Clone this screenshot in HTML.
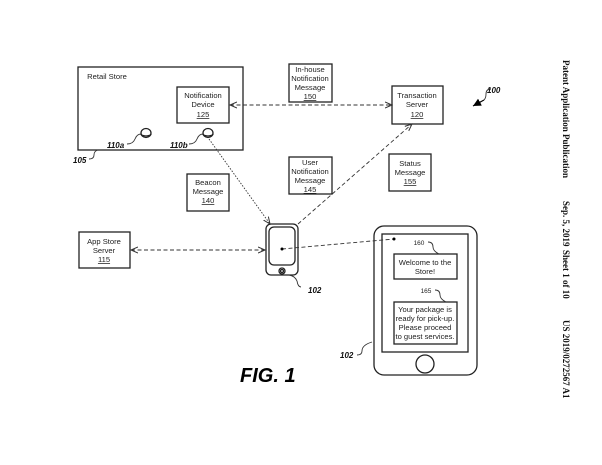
<!DOCTYPE html>
<html><head><meta charset="utf-8"><style>
html,body{margin:0;padding:0;background:#fff;}
svg{display:block;font-family:"Liberation Sans",sans-serif;}
</style></head><body>
<svg width="602" height="465" viewBox="0 0 602 465" xmlns="http://www.w3.org/2000/svg">
<defs>
<marker id="a" markerWidth="8" markerHeight="8" refX="7" refY="4" orient="auto-start-reverse" markerUnits="userSpaceOnUse"><path d="M0,1 L7,4 L0,7" fill="none" stroke="#333" stroke-width="1"/></marker>
<marker id="f" markerWidth="10" markerHeight="10" refX="8" refY="4" orient="auto" markerUnits="userSpaceOnUse"><path d="M0,0 L8,4 L0,8 z" fill="#000"/></marker>
</defs>
<g fill="none" stroke="#222" stroke-width="1.3">
<rect x="78" y="67" width="165" height="83"/>
<rect x="177" y="87" width="52" height="36"/>
<rect x="289" y="64" width="43" height="38"/>
<rect x="392" y="86" width="51" height="38"/>
<rect x="289" y="157" width="43" height="37"/>
<rect x="389" y="154" width="42" height="37"/>
<rect x="187" y="174" width="42" height="37"/>
<rect x="79" y="232" width="51" height="36"/>
<rect x="266" y="224" width="32" height="51" rx="5"/>
<rect x="269" y="227" width="26" height="38" rx="5"/>
<circle cx="282" cy="271" r="3"/><circle cx="282" cy="271" r="1.5"/>
<rect x="374" y="226" width="103" height="149" rx="10"/>
<rect x="382" y="234" width="86" height="118"/>
<circle cx="425" cy="364" r="9"/>
<rect x="394" y="254" width="63" height="25"/>
<rect x="394" y="302" width="63" height="42"/>
<ellipse cx="146" cy="133" rx="5" ry="4.5"/><path d="M141,134 a5,2 0 0 0 10,0"/>
<ellipse cx="208" cy="133" rx="5" ry="4.5"/><path d="M203,134 a5,2 0 0 0 10,0"/>
</g>
<g fill="none" stroke="#333" stroke-width="0.9">
<path d="M127,144 q6,0 8,-5 q2,-5 6,-5"/>
<path d="M189,144 q6,0 8,-5 q2,-5 6,-5"/>
<path d="M89,159 q5,0 5,-4 q0,-4 4,-5"/>
<path d="M301,287 q-3,0 -4,-6 q-2,-5 -8,-6"/>
<path d="M357,355 q5,0 5,-4 q0,-6 10,-9"/>
<path d="M428,242 q5,0 5,5 q0,4 6,7"/>
<path d="M435,290 q5,0 5,5 q0,4 6,7"/>
<path d="M491,89 q-5,0 -5,5 q0,4 -2,6"/>
</g>
<path d="M484,100 L473,106" stroke="#000" stroke-width="1.2" marker-end="url(#f)"/>
<g fill="none" stroke="#333" stroke-width="0.9" stroke-dasharray="4,2.5">
<line x1="230" y1="105" x2="392" y2="105" marker-end="url(#a)" marker-start="url(#a)"/>
<line x1="298" y1="224" x2="412" y2="124" marker-end="url(#a)"/>
<line x1="131" y1="250" x2="265" y2="250" marker-end="url(#a)" marker-start="url(#a)"/>
<line x1="282" y1="249" x2="394" y2="239"/>
</g>
<line x1="209" y1="139" x2="270" y2="224" stroke="#333" stroke-width="0.9" stroke-dasharray="1.5,1.5" marker-end="url(#a)"/>
<circle cx="282" cy="249" r="1.5" fill="#000"/><circle cx="394" cy="239" r="1.5" fill="#000"/>
<g font-size="7.6" fill="#222" text-anchor="middle">
<text x="107" y="79">Retail Store</text>
<text x="203" y="98">Notification</text><text x="203" y="107">Device</text><text x="203" y="117" text-decoration="underline">125</text>
<text x="310" y="72">In-house</text><text x="310" y="81">Notification</text><text x="310" y="90">Message</text><text x="310" y="99" text-decoration="underline">150</text>
<text x="417" y="98">Transaction</text><text x="417" y="107">Server</text><text x="417" y="117" text-decoration="underline">120</text>
<text x="310" y="165">User</text><text x="310" y="174">Notification</text><text x="310" y="183">Message</text><text x="310" y="192" text-decoration="underline">145</text>
<text x="410" y="166">Status</text><text x="410" y="175">Message</text><text x="410" y="184" text-decoration="underline">155</text>
<text x="208" y="185">Beacon</text><text x="208" y="194">Message</text><text x="208" y="203" text-decoration="underline">140</text>
<text x="104" y="244">App Store</text><text x="104" y="253">Server</text><text x="104" y="262" text-decoration="underline">115</text>
<text x="425" y="265">Welcome to the</text><text x="425" y="274">Store!</text>
<text x="425" y="312">Your package is</text><text x="425" y="321">ready for pick-up.</text><text x="425" y="330">Please proceed</text><text x="425" y="339">to guest services.</text>
<text x="419" y="245" font-size="6.5">160</text><text x="426" y="293" font-size="6.5">165</text>
</g>
<g font-size="8" font-weight="bold" font-style="italic" fill="#111">
<text x="107" y="148">110a</text><text x="170" y="148">110b</text><text x="73" y="163">105</text>
<text x="308" y="293">102</text><text x="340" y="358">102</text><text x="487" y="93">100</text>
</g>
<text x="240" y="382" font-size="20" font-weight="bold" font-style="italic" fill="#000">FIG. 1</text>
<g font-family="Liberation Serif,serif" font-size="9" font-weight="bold" fill="#111" transform="translate(563,60) rotate(90)">
<text x="0" y="0">Patent Application Publication</text>
<text x="141" y="0">Sep. 5, 2019</text>
<text x="190" y="0">Sheet 1 of 10</text>
<text x="260" y="0">US 2019/0272567 A1</text>
</g>
</svg>
</body></html>
